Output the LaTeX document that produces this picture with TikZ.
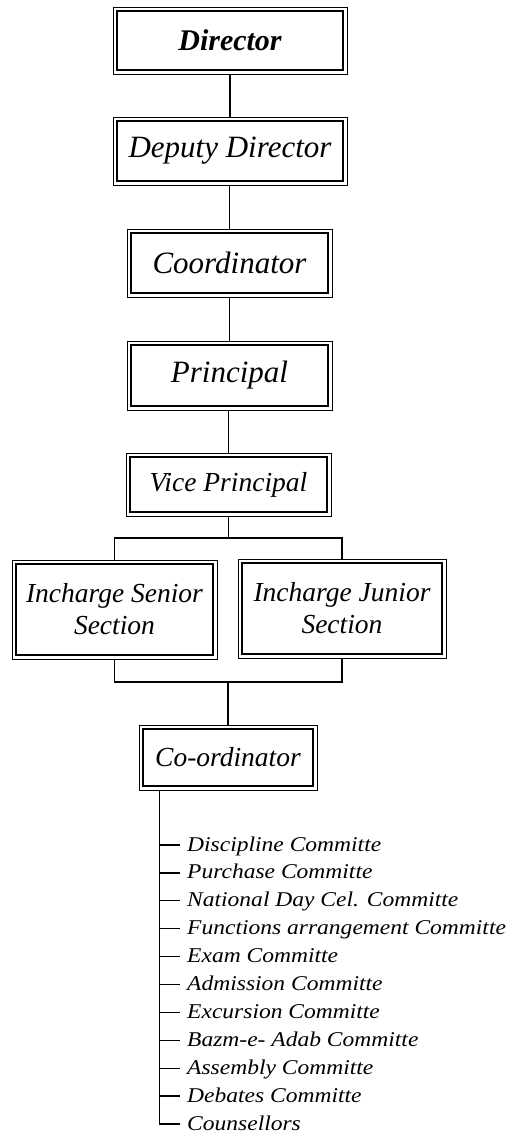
\documentclass[tikz,border=0pt]{standalone}
\usepackage{fontspec}
\setmainfont{Liberation Serif}
\newfontfamily\listfont[FakeStretch=1.12]{Liberation Serif}
\usetikzlibrary{calc}

\tikzset{
  post/.style={draw=black, line width=0.9pt, rectangle, align=center,
    inner sep=0pt},
  big/.style={font=\itshape\fontsize{31}{36}\selectfont},
  mid/.style={font=\itshape\fontsize{27.5}{32}\selectfont},
  inner frame/.style={line width=2.7pt},
  link/.style={line width=1.3pt},
  item/.style={anchor=west, inner sep=0pt, text height=15pt, text depth=3pt,
    font=\listfont\itshape\fontsize{21}{25}\selectfont},
}

\begin{document}
\begin{tikzpicture}[x=1pt, y=-1pt]
\useasboundingbox (0,0) rectangle (512,1139);

% chain of posts
\node[post, minimum width=234pt, minimum height=67pt,
      font=\bfseries\itshape\fontsize{30}{36}\selectfont] (dir) at (230,40.5) {Director};
\node[post, big, minimum width=234pt, minimum height=68pt] (dep) at (230,151) {Deputy Director};
\node[post, big, minimum width=205pt, minimum height=68pt] (coo) at (229.5,263) {Coordinator};
\node[post, big, minimum width=205pt, minimum height=69pt] (pri) at (229.5,375.5) {Principal};
\node[post, mid, minimum width=205pt, minimum height=63pt] (vp) at (228.5,484.5) {Vice Principal};
\node[post, mid, minimum width=205pt, minimum height=99pt] (sen) at (114.5,609.5) {Incharge Senior\\Section};
\node[post, mid, minimum width=208pt, minimum height=99pt] (jun) at (342,608.5) {Incharge Junior\\Section};
\node[post, mid, minimum width=178pt, minimum height=65pt] (cor) at (228,757.5) {Co-ordinator};

% thick inner border of every post
\foreach \n in {dir,dep,coo,pri,vp,sen,jun,cor}
  \draw[inner frame] ([shift={(4.5pt,4.5pt)}]\n.south west)
      rectangle ([shift={(-4.5pt,-4.5pt)}]\n.north east);

% vertical links
\draw[link] (dir.south) -- (dep.north);
\draw[link] (coo.north |- dep.south) -- (coo.north);
\draw[link] (coo.south) -- (pri.north);
\draw[link] (vp.north |- pri.south) -- (vp.north);

% branch to the two sections and join below them
\coordinate (bt) at (228.5,538);
\coordinate (bb) at (228,682);
\draw[link] (vp.south) -- (bt);
\draw[link] (sen.north) |- (bt) -| (jun.north);
\draw[link] (sen.south) |- (bb) -| (jun.south);
\draw[link] (bb) -- (cor.north);

% committees
\foreach \t [count=\i] in {Discipline Committe, Purchase Committe,
    National Day Cel. Committe, Functions arrangement Committe,
    Exam Committe, Admission Committe, Excursion Committe,
    Bazm-e- Adab Committe, Assembly Committe, Debates Committe, Counsellors}
  \node[item] (c\i) at (187,{845+27.9*(\i-1)}) {\t};

\coordinate (sp) at ([xshift=21pt]cor.south west);
\draw[link] (sp) |- ([xshift=-7pt]c11.west);
\foreach \i in {1,...,10}
  \draw[link] (c\i.west -| sp) -- ([xshift=-7pt]c\i.west);
\end{tikzpicture}
\end{document}
